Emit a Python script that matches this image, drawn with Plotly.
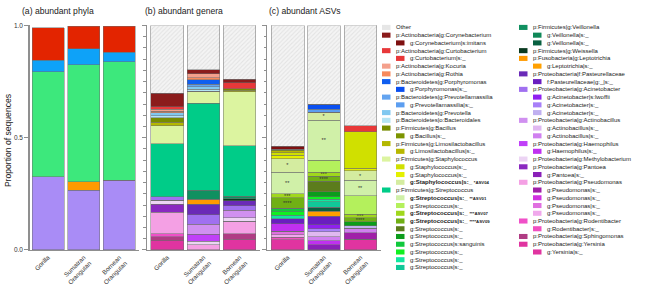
import plotly.graph_objects as go

W, H = 668, 290
FONT = "Liberation Sans, Arial, Helvetica, sans-serif"

categories = ["Gorilla", "Sumatran<br>Orangutan", "Bornean<br>Orangutan"]

# ---------------- Panel (a): phyla (bottom -> top) ----------------
phyla_names = ["Proteobacteria", "Fusobacteria", "Firmicutes", "Bacteroidetes", "Actinobacteria"]
phyla_colors = ["#a98cf6", "#ff9a00", "#3de87c", "#0ea2f8", "#e32400"]
phyla_values = [
    [0.326, 0.265, 0.310],
    [0.000, 0.039, 0.000],
    [0.468, 0.522, 0.529],
    [0.051, 0.070, 0.041],
    [0.145, 0.101, 0.117],
]

# ---------------- "Other" ----------------
other_label = "Other"
other_color = "#e6e6e6"
other_genera = [0.303, 0.198, 0.239]
other_asvs = [0.539, 0.351, 0.447]

# ---------------- Panel (b): genera (legend order, top -> bottom) ----------------
genus_labels = [
    "p:Actinobacteria|g:Corynebacterium",
    "p:Actinobacteria|g:Curtobacterium",
    "p:Actinobacteria|g:Kocuria",
    "p:Actinobacteria|g:Rothia",
    "p:Bacteroidetes|g:Porphyromonas",
    "p:Bacteroidetes|g:Prevotellamassilia",
    "p:Bacteroidetes|g:Prevotella",
    "p:Bacteroidetes|o:Bacteroidales",
    "p:Firmicutes|g:Bacillus",
    "p:Firmicutes|g:Limosilactobacillus",
    "p:Firmicutes|g:Staphylococcus",
    "p:Firmicutes|g:Streptococcus",
    "p:Firmicutes|g:Veillonella",
    "p:Firmicutes|g:Weissella",
    "p:Fusobacteria|g:Leptotrichia",
    "p:Proteobacteria|f:Pasteurellaceae",
    "p:Proteobacteria|g:Acinetobacter",
    "p:Proteobacteria|g:Actinobacillus",
    "p:Proteobacteria|g:Haemophilus",
    "p:Proteobacteria|g:Methylobacterium",
    "p:Proteobacteria|g:Pantoea",
    "p:Proteobacteria|g:Pseudomonas",
    "p:Proteobacteria|g:Rodentibacter",
    "p:Proteobacteria|g:Sphingomonas",
    "p:Proteobacteria|g:Yersinia",
]
genus_colors = [
    "#8b1c1c", "#e8383a", "#f4a08c", "#f88a5c",
    "#0f5ef0", "#64a4f0", "#80c8f0", "#b4e4f4",
    "#778c00", "#b4b800", "#dcf4a0", "#00cc88",
    "#109060", "#0a3a20", "#ff9a00", "#6a2ab8",
    "#a070f0", "#d090f0", "#c040f8", "#ecd4f4",
    "#8a28c0", "#f4a0e4", "#f050c8", "#b03c84", "#e034a0",
]
genus_values = [
    [0.060, 0.017, 0.017],
    [0.010, 0.000, 0.026],
    [0.010, 0.017, 0.000],
    [0.007, 0.009, 0.000],
    [0.000, 0.020, 0.000],
    [0.000, 0.012, 0.000],
    [0.012, 0.012, 0.000],
    [0.009, 0.007, 0.000],
    [0.020, 0.000, 0.007],
    [0.016, 0.000, 0.007],
    [0.081, 0.054, 0.239],
    [0.236, 0.388, 0.225],
    [0.000, 0.040, 0.012],
    [0.000, 0.000, 0.010],
    [0.000, 0.023, 0.000],
    [0.000, 0.046, 0.022],
    [0.014, 0.042, 0.020],
    [0.000, 0.046, 0.032],
    [0.000, 0.030, 0.000],
    [0.019, 0.017, 0.016],
    [0.035, 0.000, 0.000],
    [0.096, 0.022, 0.055],
    [0.013, 0.000, 0.000],
    [0.019, 0.000, 0.025],
    [0.040, 0.000, 0.048],
]

# ---------------- Panel (c): ASVs (legend order, top -> bottom) ----------------
asv_labels = [
    "g:Corynebacterium|s:imitans",
    "g:Curtobacterium|s:_",
    "g:Porphyromonas|s:_",
    "g:Prevotellamassilia|s:_",
    "g:Bacillus|s:_",
    "g:Limosilactobacillus|s:_",
    "g:Staphylococcus|s:_",
    "g:Staphylococcus|s:_",
    "g:Staphylococcus|s:_",
    "g:Streptococcus|s:_",
    "g:Streptococcus|s:_",
    "g:Streptococcus|s:_",
    "g:Streptococcus|s:_",
    "g:Streptococcus|s:_",
    "g:Streptococcus|s:_",
    "g:Streptococcus|s:sanguinis",
    "g:Streptococcus|s:_",
    "g:Streptococcus|s:_",
    "g:Streptococcus|s:_",
    "g:Veillonella|s:_",
    "g:Veillonella|s:_",
    "g:Leptotrichia|s:_",
    "f:Pasteurellaceae|g:_|s:_",
    "g:Acinetobacter|s:lwoffii",
    "g:Acinetobacter|s:_",
    "g:Acinetobacter|s:_",
    "g:Actinobacillus|s:_",
    "g:Actinobacillus|s:_",
    "g:Haemophilus|s:_",
    "g:Pantoea|s:_",
    "g:Pseudomonas|s:_",
    "g:Pseudomonas|s:_",
    "g:Pseudomonas|s:_",
    "g:Pseudomonas|s:_",
    "g:Rodentibacter|s:_",
    "g:Yersinia|s:_",
]
asv_tags = [""] * 8 + ["*ASV04", "**ASV01", "", "***ASV07", "****ASV09"] + [""] * 23
asv_marks = [""] * 8 + ["*", "**", "", "***", "****"] + [""] * 23
asv_parent = [0, 1, 4, 5, 8, 9, 10, 10, 10, 11, 11, 11, 11, 11, 11, 11, 11, 11, 11,
              12, 12, 14, 15, 16, 16, 16, 17, 17, 18, 20, 21, 21, 21, 21, 22, 24]
asv_colors = [
    "#7e1010", "#e83838", "#0a4ff0", "#5c9ef0", "#7c9400", "#b8b800",
    "#d0e000", "#e4f000", "#d4eca0",
    "#d0f0a8", "#b4f05c", "#a0d81c", "#70b014", "#5c7c1c", "#0c9c1c",
    "#10c83c", "#10f020", "#10e8a0", "#10c898",
    "#108858", "#086040", "#ffa000", "#6a1ec0",
    "#9020f0", "#a880f8", "#c0b0f0", "#e0b8f0", "#d080f0",
    "#c030f0", "#8a20b8", "#a020a8", "#d030e0", "#e070e0", "#f0a8ec",
    "#f050c0", "#e034a0",
]
asv_values = [
    [0.012, 0.000, 0.000],
    [0.000, 0.000, 0.026],
    [0.000, 0.023, 0.000],
    [0.000, 0.012, 0.000],
    [0.008, 0.000, 0.000],
    [0.008, 0.000, 0.000],
    [0.012, 0.000, 0.164],
    [0.014, 0.000, 0.010],
    [0.060, 0.036, 0.043],
    [0.097, 0.178, 0.068],
    [0.000, 0.054, 0.084],
    [0.017, 0.018, 0.014],
    [0.048, 0.021, 0.019],
    [0.000, 0.048, 0.000],
    [0.000, 0.023, 0.017],
    [0.016, 0.000, 0.000],
    [0.015, 0.010, 0.000],
    [0.015, 0.012, 0.000],
    [0.000, 0.025, 0.000],
    [0.000, 0.000, 0.000],
    [0.000, 0.017, 0.000],
    [0.000, 0.022, 0.000],
    [0.022, 0.037, 0.000],
    [0.000, 0.019, 0.000],
    [0.000, 0.014, 0.000],
    [0.000, 0.000, 0.011],
    [0.000, 0.022, 0.000],
    [0.000, 0.017, 0.020],
    [0.033, 0.019, 0.000],
    [0.000, 0.022, 0.000],
    [0.000, 0.000, 0.029],
    [0.000, 0.000, 0.000],
    [0.017, 0.000, 0.000],
    [0.010, 0.000, 0.000],
    [0.012, 0.000, 0.000],
    [0.045, 0.000, 0.048],
]

panel_titles = ["(a) abundant phyla", "(b) abundant genera", "(c) abundant ASVs"]
y_title = "Proportion of sequences"
y_ticks = [0.0, 0.5, 1.0]


# ---------------- helpers (pixel -> paper) ----------------
def fx(px):
    return px / W


def fy(py):
    return 1 - py / H


OUTLINE = dict(color="#6e6e6e", width=0.5)
AXC = "#8f8f8f"
other_pattern = dict(shape="/", fgcolor="#d2d2d2", bgcolor="#f4f4f4", size=3, solidity=0.35)

fig = go.Figure()

# panel a
for name, col, vals in zip(phyla_names, phyla_colors, phyla_values):
    fig.add_trace(go.Bar(x=categories, y=vals, name=name, marker=dict(color=col, line=OUTLINE),
                         width=0.9, xaxis="x", yaxis="y"))

# panel b (bottom -> top = reverse legend order)
for i in reversed(range(len(genus_labels))):
    fig.add_trace(go.Bar(x=categories, y=genus_values[i], name=genus_labels[i],
                         marker=dict(color=genus_colors[i], line=OUTLINE),
                         width=0.9, xaxis="x2", yaxis="y2"))
fig.add_trace(go.Bar(x=categories, y=other_genera, name=other_label,
                     marker=dict(color=other_color, line=OUTLINE, pattern=other_pattern),
                     width=0.9, xaxis="x2", yaxis="y2"))

# panel c
for i in reversed(range(len(asv_labels))):
    mark = asv_marks[i]
    fig.add_trace(go.Bar(x=categories, y=asv_values[i], name=asv_labels[i],
                         marker=dict(color=asv_colors[i], line=OUTLINE),
                         text=[mark] * 3 if mark else None,
                         textposition="inside", insidetextanchor="middle", textangle=0,
                         textfont=dict(size=5.5, color="#333333", family=FONT),
                         width=0.9, xaxis="x3", yaxis="y3"))
fig.add_trace(go.Bar(x=categories, y=other_asvs, name=other_label,
                     marker=dict(color=other_color, line=OUTLINE, pattern=other_pattern),
                     width=0.9, xaxis="x3", yaxis="y3"))

# axes
y_dom = [fy(252), fy(22)]
x_doms = [(29.5, 139.0), (147.0, 259.5), (267.3, 380.5)]
x_ranges = [[-0.52, 2.55], [-0.56, 2.55], [-0.56, 2.55]]
layout_axes = {}
for k in range(3):
    sx = "" if k == 0 else str(k + 1)
    layout_axes["xaxis" + sx] = dict(
        domain=[fx(x_doms[k][0]), fx(x_doms[k][1])], range=x_ranges[k], anchor="y" + sx,
        showline=True, linecolor=AXC, linewidth=1.5, ticks="", tickangle=-45,
        ticklabelstandoff=0,
        tickfont=dict(size=6.3, color="#333333", family=FONT), showgrid=False, zeroline=False,
        fixedrange=True,
    )
    ya = dict(
        domain=y_dom, range=[0, 1.0], anchor="x" + sx, showline=True, linecolor=AXC, linewidth=1.2,
        tickvals=y_ticks, ticks="outside", ticklen=4, tickwidth=1, tickcolor=AXC,
        showgrid=False, zeroline=False, fixedrange=True,
        tickfont=dict(size=6.5, color="#333333", family=FONT), tickformat=".1f",
        showticklabels=(k == 0),
    )
    if k > 0:
        ya["minor"] = dict(dtick=0.05, ticks="outside", ticklen=2.5, tickcolor=AXC, tickwidth=1)
    layout_axes["yaxis" + sx] = ya

annotations = []
title_x = [20, 143, 266.5]
for k in range(3):
    annotations.append(dict(text=panel_titles[k], x=fx(title_x[k]), y=fy(7.5), xref="paper", yref="paper",
                            xanchor="left", yanchor="middle", showarrow=False,
                            font=dict(size=8.6, color="#222222", family=FONT)))
annotations.append(dict(text=y_title, x=fx(7.5), y=fy(140), xref="paper", yref="paper", textangle=-90,
                        xanchor="center", yanchor="middle", showarrow=False,
                        font=dict(size=8.6, color="#222222", family=FONT)))

# legend (drawn manually: two columns, sub-entries indented)
entries = [(other_label, other_color, 0, "")]
for g in range(len(genus_labels)):
    entries.append((genus_labels[g], genus_colors[g], 0, ""))
    for a in range(len(asv_labels)):
        if asv_parent[a] == g:
            entries.append((asv_labels[a], asv_colors[a], 1, asv_tags[a]))

shapes = []
col_x = [382.0, 519.0]
row0, dy = 24.0, 7.935
per_col = 32
for idx, (lab, col, lvl, tag) in enumerate(entries):
    c = 0 if idx < per_col else 1
    r = idx if idx < per_col else idx - per_col
    yc = row0 + r * dy
    x0 = col_x[c] + (14 if lvl else 0)
    shapes.append(dict(type="rect", xref="paper", yref="paper", x0=fx(x0), x1=fx(x0 + 8.5),
                       y0=fy(yc + 2.6), y1=fy(yc - 2.6), fillcolor=col, line=dict(width=0)))
    if tag:
        txt = "<b>%s</b> <b><span style='font-size:4.3px'>%s</span></b>" % (lab, tag)
    else:
        txt = lab
    annotations.append(dict(text=txt, x=fx(x0 + 12), y=fy(yc), xref="paper", yref="paper",
                            xanchor="left", yanchor="middle", showarrow=False,
                            font=dict(size=6, color="#222222", family=FONT)))

fig.update_layout(
    width=W, height=H, autosize=False, margin=dict(l=0, r=0, t=0, b=0),
    paper_bgcolor="white", plot_bgcolor="white", barmode="stack", bargap=0.1,
    showlegend=False, font=dict(family=FONT), hovermode=False,
    uniformtext=dict(minsize=5.5, mode="show"),
    annotations=annotations, shapes=shapes, **layout_axes,
)

fig.write_html(
    "out.html",
    config={"displayModeBar": False, "staticPlot": True},
    post_script="document.body.style.margin='0';document.body.style.padding='0';"
                "document.body.style.overflow='hidden';",
)
